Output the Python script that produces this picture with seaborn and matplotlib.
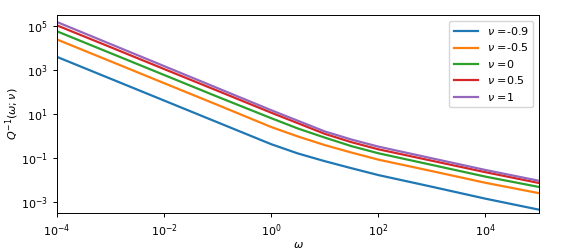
import numpy as np
import matplotlib
matplotlib.use("Agg")
import matplotlib.pyplot as plt
import seaborn as sns
from matplotlib.ticker import NullLocator

omega = [1e-4, 1e-3, 1e-2, 1e-1, 1.0, 3.16, 10.0, 31.6, 100.0, 1e3, 1e4, 1e5]

nu_values = ["-0.9", "-0.5", "0", "0.5", "1"]

q_m09 = [3800, 389, 39.8, 4.07, 0.417, 0.158, 0.0708, 0.0339, 0.0166, 0.0049, 0.00141, 0.000447]
q_m05 = [23400, 2400, 245, 25.1, 2.51, 0.933, 0.380, 0.174, 0.0832, 0.0251, 0.00741, 0.00251]
q_0 = [55000, 5620, 575, 58.9, 6.31, 2.14, 0.832, 0.339, 0.162, 0.0479, 0.0141, 0.00479]
q_05 = [102000, 10500, 1070, 110, 11.2, 3.72, 1.23, 0.513, 0.245, 0.0741, 0.0224, 0.00724]
q_1 = [145000, 14500, 1450, 145, 14.5, 4.79, 1.58, 0.676, 0.324, 0.0955, 0.0282, 0.00912]

series = [q_m09, q_m05, q_0, q_05, q_1]
colors = sns.color_palette("tab10", 5)

plt.rcParams.update({
    "font.size": 8,
    "axes.linewidth": 0.7,
    "xtick.major.size": 3,
    "ytick.major.size": 3,
    "xtick.major.width": 0.7,
    "ytick.major.width": 0.7,
})

fig, ax = plt.subplots(figsize=(5.67, 2.52), dpi=100)
fig.subplots_adjust(left=0.1005, right=0.9506, top=0.9405, bottom=0.1548)

for nu, q, c in zip(nu_values, series, colors):
    sns.lineplot(x=omega, y=q, ax=ax, color=c, linewidth=1.6, label=r"$\nu$ =" + nu)

ax.set_xscale("log")
ax.set_yscale("log")
ax.set_xlim(1e-4, 1e5)
ax.set_ylim(10 ** -3.5, 10 ** 5.48)
ax.set_xticks([1e-4, 1e-2, 1, 1e2, 1e4])
ax.set_yticks([1e-3, 1e-1, 1e1, 1e3, 1e5])
ax.xaxis.set_minor_locator(NullLocator())
ax.yaxis.set_minor_locator(NullLocator())

ax.set_xlabel(r"$\omega$", labelpad=1)
ax.set_ylabel(r"$Q^{-1}(\omega;\nu)$", labelpad=0)
ax.legend(loc="upper right", handlelength=2.2, labelspacing=0.4)

fig.savefig("out.png", dpi=100)
